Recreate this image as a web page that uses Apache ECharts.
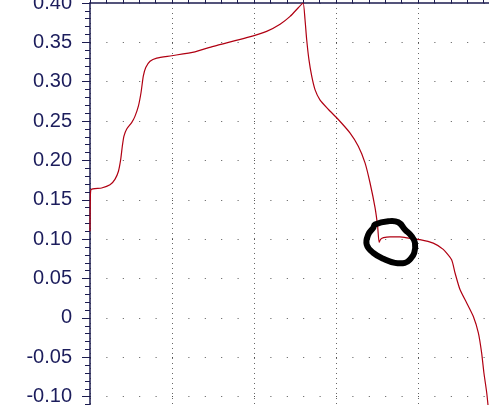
<!DOCTYPE html>
<html>
<head>
<meta charset="utf-8">
<script src="https://cdn.jsdelivr.net/npm/echarts@6/dist/echarts.min.js"></script>
<style>
html,body{margin:0;padding:0;background:#fff;overflow:hidden;width:489px;height:405px;}
#chart{width:540px;height:445px;}
</style>
</head>
<body>
<div id="chart"></div>
<script>
// Curve samples (x in arbitrary units, y in axis units)
const curveX = [0, 0.02, 0.06, 0.71, 1.22, 1.52, 1.73, 1.87, 1.97, 2.07, 2.24, 2.54, 2.74, 2.95, 3.11, 3.25, 3.40, 3.66, 4.07, 4.98, 6.40, 7.52, 9.55, 10.77, 11.59, 12.20, 12.70, 12.99, 13.11, 13.21, 13.35, 13.52, 13.72, 14.02, 14.53, 15.14, 15.85, 16.36, 16.77, 17.07, 17.38, 17.54, 17.63, 17.73, 17.90, 18.29, 18.90, 19.51, 20.12, 20.93, 21.54, 22.05, 22.26, 22.56, 22.97, 23.37, 23.68, 23.88, 24.02, 24.19, 24.30];
const curveY = [0.110, 0.150, 0.163, 0.165, 0.169, 0.176, 0.186, 0.201, 0.218, 0.231, 0.240, 0.248, 0.256, 0.269, 0.286, 0.307, 0.318, 0.326, 0.330, 0.333, 0.338, 0.345, 0.356, 0.364, 0.373, 0.383, 0.394, 0.400, 0.379, 0.354, 0.328, 0.307, 0.290, 0.277, 0.265, 0.252, 0.235, 0.218, 0.197, 0.172, 0.140, 0.116, 0.096, 0.100, 0.102, 0.103, 0.103, 0.101, 0.0995, 0.095, 0.087, 0.074, 0.057, 0.036, 0.019, 0.002, -0.019, -0.0445, -0.070, -0.095, -0.117];
// Hand-drawn circle annotation centre (data units)
const noteCenter = [18.29, 0.0957];
const yTickLabels = ['-0.15', '-0.10', '-0.05', '0', '0.05', '0.10', '0.15', '0.20', '0.25', '0.30', '0.35', '0.40'];

const navy = '#1c1c50';
const chart = echarts.init(document.getElementById('chart'));
const data = curveX.map((x, i) => [x, curveY[i]]);

chart.setOption({
  animation: false,
  backgroundColor: '#fff',
  grid: { left: 90, top: 3, width: 426.4, height: 433, outerBoundsMode: 'none', containLabel: false },
  xAxis: {
    type: 'value', position: 'top', min: 0, max: 26, interval: 5,
    axisLine: { show: true, onZero: false, lineStyle: { color: navy, width: 1.5 } },
    axisTick: { show: true, length: 5, lineStyle: { color: navy } },
    minorTick: { show: true, splitNumber: 5, length: 5, lineStyle: { color: navy } },
    axisLabel: { show: false },
    splitLine: { show: true, lineStyle: { color: '#666', type: [1, 4], width: 1 } }
  },
  yAxis: {
    type: 'value', min: -0.15, max: 0.40, interval: 0.05,
    axisLine: { show: true, onZero: false, lineStyle: { color: navy, width: 1.5 } },
    axisTick: { show: true, length: 8, lineStyle: { color: navy } },
    minorTick: { show: true, splitNumber: 5, length: 5, lineStyle: { color: navy } },
    axisLabel: {
      color: '#1c1d5c', fontFamily: 'Liberation Sans, Arial, sans-serif', fontSize: 20, margin: 18,
      formatter: v => {
        const idx = Math.round((v + 0.15) / 0.05);
        return yTickLabels[idx] !== undefined ? yTickLabels[idx] : '';
      }
    },
    splitLine: { show: true, lineStyle: { color: '#555', type: [1, 15.4], width: 1 } }
  },
  series: [{
    type: 'line', data: data, showSymbol: false, smooth: 0.2,
    lineStyle: { color: '#b00012', width: 1.2 },
    clip: true
  }]
});

// place the hand-drawn circle around the dip
const c = chart.convertToPixel({ gridIndex: 0 }, noteCenter);
const offs = [[-15,-18],[-1.7,-21.3],[8.3,-20.3],[15,-13],[21.7,-6.3],[25,0.3],[24.3,10.3],[20,17],[15,20.3],[5,20.3],[-5,17],[-16.7,10.3],[-23.3,2],[-21.7,-8],[-16.7,-14.7]];
chart.setOption({
  graphic: [{
    type: 'polygon', z: 100,
    shape: { points: offs.map(p => [c[0] + p[0], c[1] + p[1]]), smooth: 0.45 },
    style: { stroke: '#000', fill: 'none', lineWidth: 6 }
  }]
});
</script>
</body>
</html>
